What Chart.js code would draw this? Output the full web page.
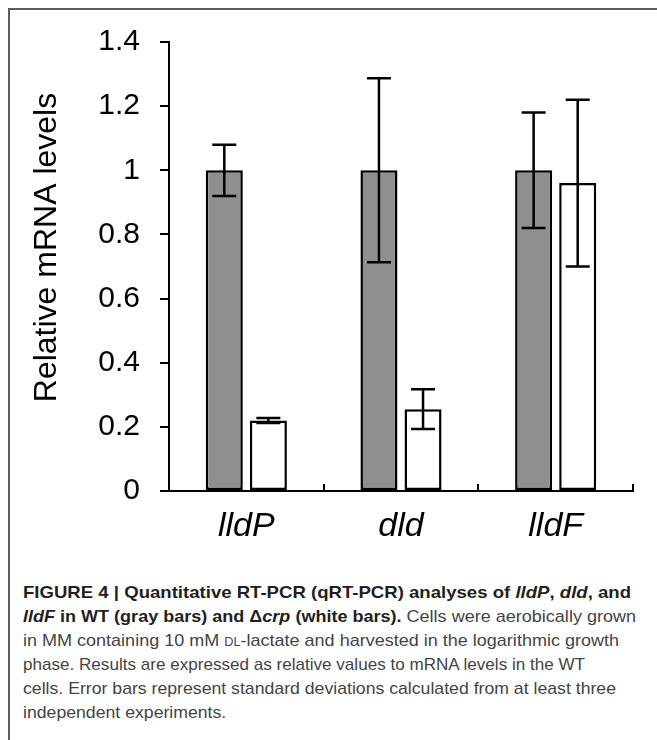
<!DOCTYPE html>
<html>
<head>
<meta charset="utf-8">
<script src="https://cdn.jsdelivr.net/npm/chart.js@4/dist/chart.umd.min.js"></script>
<style>
  html, body { margin: 0; padding: 0; background: #fff; }
  body { width: 657px; height: 740px; position: relative; overflow: hidden; font-family: "Liberation Sans", Arial, sans-serif; }
  #frame { position: absolute; left: 8px; top: 8px; width: 720px; height: 760px; border-top: 2px solid #5c5c5c; border-left: 2px solid #5c5c5c; box-sizing: border-box; }
  #chartWrap { position: absolute; left: 0; top: 0; width: 657px; height: 560px; }
  #caption { position: absolute; left: 23px; top: 581px; font-size: 17px; line-height: 24px; color: #444; }
  #caption .ln { white-space: nowrap; transform-origin: 0 0; display: block; width: max-content; }
  #caption b { color: #231f20; }
  .sc { font-variant: small-caps; }
</style>
</head>
<body>
<div id="frame"></div>
<div id="chartWrap"><canvas id="c" width="657" height="560"></canvas></div>
<div id="caption">
  <span class="ln"><b>FIGURE 4 | Quantitative RT-PCR (qRT-PCR) analyses of <i>lldP</i>, <i>dld</i>, and</b></span>
  <span class="ln"><b><i>lldF</i> in WT (gray bars) and Δ<i>crp</i> (white bars).</b> Cells were aerobically grown</span>
  <span class="ln">in MM containing 10 mM <span class="sc">dl</span>-lactate and harvested in the logarithmic growth</span>
  <span class="ln">phase. Results are expressed as relative values to mRNA levels in the WT</span>
  <span class="ln">cells. Error bars represent standard deviations calculated from at least three</span>
  <span class="ln">independent experiments.</span>
</div>
<script>
// ---- data ----
const categories = ['lldP', 'dld', 'lldF'];
const seriesNames = ['WT', 'Δcrp'];
const wtValues = [1.0, 1.0, 1.0];
const wtErrors = [0.08, 0.287, 0.18];
const crpValues = [0.22, 0.255, 0.96];
const crpErrors = [0.008, 0.062, 0.26];
const yMin = 0, yMax = 1.4, yStep = 0.2;
const yTitle = 'Relative mRNA levels';

Chart.defaults.font.family = '"Liberation Sans", Arial, sans-serif';
Chart.defaults.color = '#000';

const errorBarPlugin = {
  id: 'errorBars',
  afterDatasetsDraw(chart) {
    const ctx = chart.ctx;
    const yScale = chart.scales.y;
    ctx.save();
    ctx.strokeStyle = '#000';
    ctx.lineWidth = 2.5;
    chart.data.datasets.forEach((ds, di) => {
      const meta = chart.getDatasetMeta(di);
      meta.data.forEach((bar, i) => {
        const v = ds.data[i], e = ds.errors[i];
        const yTop = yScale.getPixelForValue(v + e);
        const yBot = yScale.getPixelForValue(v - e);
        const x = bar.x, cap = 12;
        ctx.beginPath();
        ctx.moveTo(x, yTop); ctx.lineTo(x, yBot);
        ctx.moveTo(x - cap, yTop); ctx.lineTo(x + cap, yTop);
        ctx.moveTo(x - cap, yBot); ctx.lineTo(x + cap, yBot);
        ctx.stroke();
      });
    });
    ctx.restore();
  }
};

const yTitlePlugin = {
  id: 'yTitle',
  afterDraw(chart) {
    const ctx = chart.ctx, a = chart.chartArea;
    ctx.save();
    ctx.translate(a.left - 122, (a.top + a.bottom) / 2 - 19);
    ctx.rotate(-Math.PI / 2);
    ctx.font = '32px "Liberation Sans", Arial, sans-serif';
    ctx.fillStyle = '#000';
    ctx.textAlign = 'center';
    ctx.textBaseline = 'middle';
    ctx.fillText(yTitle, 0, 0);
    ctx.restore();
  }
};

new Chart(document.getElementById('c'), {
  type: 'bar',
  data: {
    labels: categories,
    datasets: [
      { label: seriesNames[0], data: wtValues, errors: wtErrors, backgroundColor: '#8f8f8f', borderColor: '#000', borderWidth: 2.5, borderSkipped: false },
      { label: seriesNames[1], data: crpValues, errors: crpErrors, backgroundColor: '#ffffff', borderColor: '#000', borderWidth: 2.5, borderSkipped: false }
    ]
  },
  options: {
    responsive: false,
    animation: false,
    devicePixelRatio: 1,
    layout: { padding: { left: 0, right: 24, top: 42, bottom: 0 } },
    plugins: { legend: { display: false }, tooltip: { enabled: false } },
    datasets: { bar: { categoryPercentage: 0.57, barPercentage: 0.84 } },
    scales: {
      x: {
        afterFit(s) { s.height = 69; },
        grid: { offset: true, drawOnChartArea: false, drawTicks: true, tickLength: -7, color: '#000', lineWidth: 2 },
        border: { display: true, color: '#000', width: 2 },
        ticks: { font: { size: 34, style: 'italic' }, padding: 22, color: '#000' }
      },
      y: {
        min: yMin, max: yMax,
        afterFit(s) { s.width = 169; },
        grid: { drawOnChartArea: false, drawTicks: true, tickLength: 9, color: '#000', lineWidth: 2 },
        border: { display: true, color: '#000', width: 2 },
        ticks: { stepSize: yStep, font: { size: 30 }, padding: 20, color: '#000',
                 callback: (v) => String(Number(v.toFixed(1))) }
      }
    }
  },
  plugins: [errorBarPlugin, yTitlePlugin]
});

// fit caption lines to the reference's line widths
const targets = [608, 613, 596, 562, 593];
const lines = document.querySelectorAll('#caption .ln');
let lastScale = 1;
lines.forEach((ln, i) => {
  const w = ln.getBoundingClientRect().width;
  const s = targets[i] ? targets[i] / w : lastScale;
  ln.style.transform = 'scaleX(' + s + ')';
  lastScale = s;
});
</script>
</body>
</html>
